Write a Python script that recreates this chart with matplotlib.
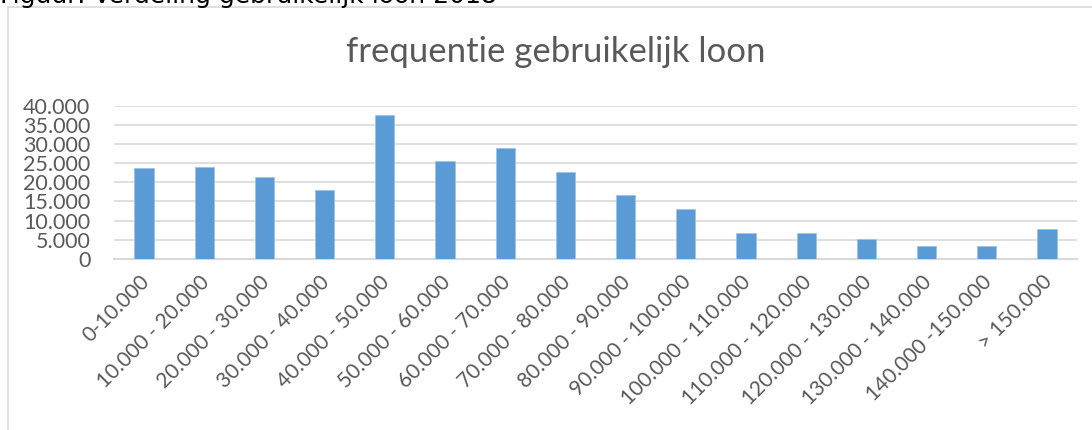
import numpy as np
import matplotlib
matplotlib.use('Agg')
import matplotlib.pyplot as plt
from matplotlib.lines import Line2D
from matplotlib.ticker import FuncFormatter

# ── data ─────────────────────────────────────────────────────────────────────
categories = ['0-10.000', '10.000 - 20.000', '20.000 - 30.000', '30.000 - 40.000',
              '40.000 - 50.000', '50.000 - 60.000', '60.000 - 70.000',
              '70.000 - 80.000', '80.000 - 90.000', '90.000 - 100.000',
              '100.000 - 110.000', '110.000 - 120.000', '120.000 - 130.000',
              '130.000 - 140.000', '140.000 -150.000', '> 150.000']
frequency = [23700, 24100, 21400, 17900, 37600, 25600, 28900, 22700,
             16800, 12900, 6800, 6800, 5100, 3300, 3300, 7900]
y_ticks = [0, 5000, 10000, 15000, 20000, 25000, 30000, 35000, 40000]

W, H = 1092, 430
fig = plt.figure(figsize=(W / 100, H / 100), dpi=100)
font = ['Lato', 'DejaVu Sans']
grey = '#595959'

# plot area in pixel coords
left, right, top, bottom = 114, 1077, 105.5, 259
ax = fig.add_axes([left / W, (H - bottom) / H, (right - left) / W, (bottom - top) / H])

x = np.arange(len(categories))
ax.bar(x, frequency, width=0.32, color='#5b9bd5', edgecolor='#9dc3e6',
       linewidth=0.6, zorder=3)

ax.set_xlim(-0.5, len(categories) - 0.5)
ax.set_ylim(0, 40000)
ax.set_yticks(y_ticks)
ax.yaxis.set_major_formatter(FuncFormatter(
    lambda v, p: '0' if v == 0 else f'{int(v):,}'.replace(',', '.')))
ax.grid(axis='y', color='#d9d9d9', linewidth=1.2, zorder=0)
for s in ['top', 'right', 'left']:
    ax.spines[s].set_visible(False)
ax.spines['bottom'].set_color('#d9d9d9')
ax.spines['bottom'].set_linewidth(1.5)
ax.tick_params(axis='both', length=0, colors=grey, labelsize=15.5)
ax.tick_params(axis='y', pad=17)
for t in ax.get_yticklabels():
    t.set_family(font)

ax.set_xticks(x)
ax.set_xticklabels(categories, rotation=45, ha='right', va='center',
                   rotation_mode='anchor', family=font, fontsize=15, color=grey)
for t in ax.get_xticklabels():
    t.set_transform(t.get_transform() + matplotlib.transforms.ScaledTranslation(
        0.02, -0.15, fig.dpi_scale_trans))

# chart title
fig.text(556 / W, 1 - 52 / H, 'frequentie gebruikelijk loon', ha='center',
         va='center', fontsize=25, color=grey, family=font)

# chart frame (left and top edges visible)
fig.add_artist(Line2D([8 / W, 8 / W], [0, 1 - 7 / H], transform=fig.transFigure,
                      color='#d9d9d9', linewidth=1.2))
fig.add_artist(Line2D([8 / W, 1], [1 - 7 / H, 1 - 7 / H], transform=fig.transFigure,
                      color='#d9d9d9', linewidth=1.2))

# cropped caption above the chart
fig.text(0, 1 - 3 / H, 'Figuur: Verdeling gebruikelijk loon 2018', ha='left',
         va='baseline', fontsize=18, color='black', family='DejaVu Sans')

fig.savefig('out.png', dpi=100)
